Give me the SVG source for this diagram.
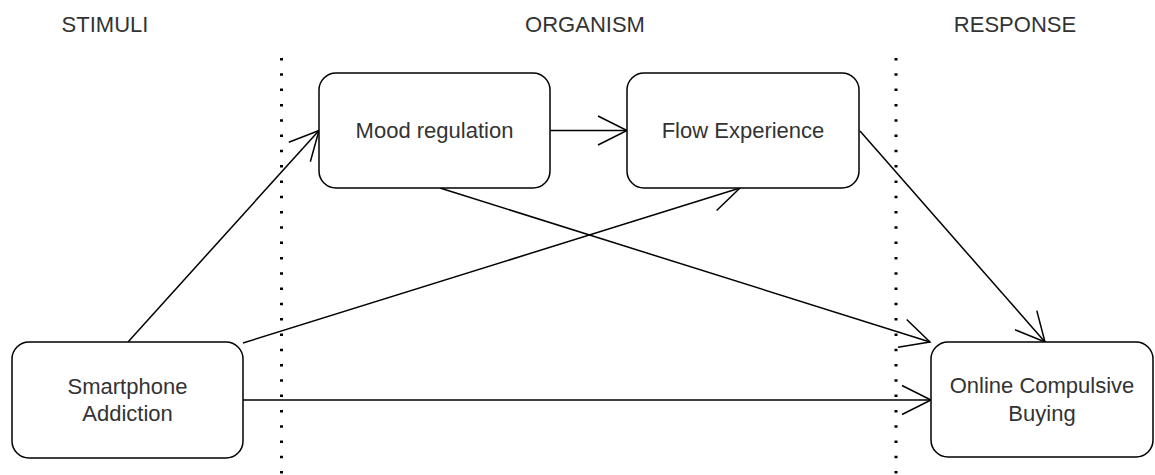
<svg xmlns="http://www.w3.org/2000/svg" width="1155" height="475" viewBox="0 0 1155 475">
  <style>
    .node rect { fill: #ffffff; stroke: #000000; stroke-width: 1.5; }
    .label { font-family: "Liberation Sans", Arial, sans-serif; font-size: 22px; fill: #333333; text-anchor: middle; }
    .header { font-family: "Liberation Sans", Arial, sans-serif; font-size: 22px; fill: #333333; text-anchor: middle; }
    .divider { stroke: #000000; stroke-width: 3; stroke-dasharray: 2.5 12.8; fill: none; }
    .edge { stroke: #000000; stroke-width: 1.5; fill: none; marker-end: url(#open); }
  </style>
  <defs>
    <marker id="open" markerUnits="userSpaceOnUse" markerWidth="36" markerHeight="36" viewBox="-32 -17 36 34" refX="0" refY="0" orient="auto" overflow="visible">
      <path d="M-29,-14.5 L0,0 L-29,14.5" fill="none" stroke="#000000" stroke-width="1.5"/>
    </marker>
  </defs>
  <rect width="1155" height="475" fill="#ffffff"/>

  <!-- column headers -->
  <g id="headers">
    <text class="header" x="105" y="32">STIMULI</text>
    <text class="header" x="585" y="32">ORGANISM</text>
    <text class="header" x="1015" y="32">RESPONSE</text>
  </g>

  <!-- dotted column separators -->
  <g id="separators">
    <line class="divider" x1="281.5" y1="58" x2="281.5" y2="475"/>
    <line class="divider" x1="896" y1="58" x2="896" y2="475"/>
  </g>

  <!-- connectors -->
  <g id="connectors">
    <path class="edge" d="M128,342 L319,130.5"/>
    <path class="edge" d="M243,343 L740,188"/>
    <path class="edge" d="M243,400 L931,400"/>
    <path class="edge" d="M440,188 L930,342"/>
    <path class="edge" d="M860,131 L1045,342"/>
    <path class="edge" d="M550,130.5 L627,130.5"/>
  </g>

  <g id="smartphone-addiction" class="node">
    <rect x="12" y="342" width="231" height="116" rx="17" ry="17"/>
    <text class="label" x="127.5" y="394">Smartphone</text>
    <text class="label" x="127.5" y="421">Addiction</text>
  </g>

  <g id="mood-regulation" class="node">
    <rect x="319" y="73" width="231" height="115" rx="17" ry="17"/>
    <text class="label" x="434.5" y="138">Mood regulation</text>
  </g>

  <g id="flow-experience" class="node">
    <rect x="627" y="73" width="232" height="115" rx="17" ry="17"/>
    <text class="label" x="743" y="138">Flow Experience</text>
  </g>

  <g id="online-compulsive-buying" class="node">
    <rect x="931" y="342" width="222" height="115" rx="17" ry="17"/>
    <text class="label" x="1042" y="393">Online Compulsive</text>
    <text class="label" x="1042" y="421">Buying</text>
  </g>
</svg>
